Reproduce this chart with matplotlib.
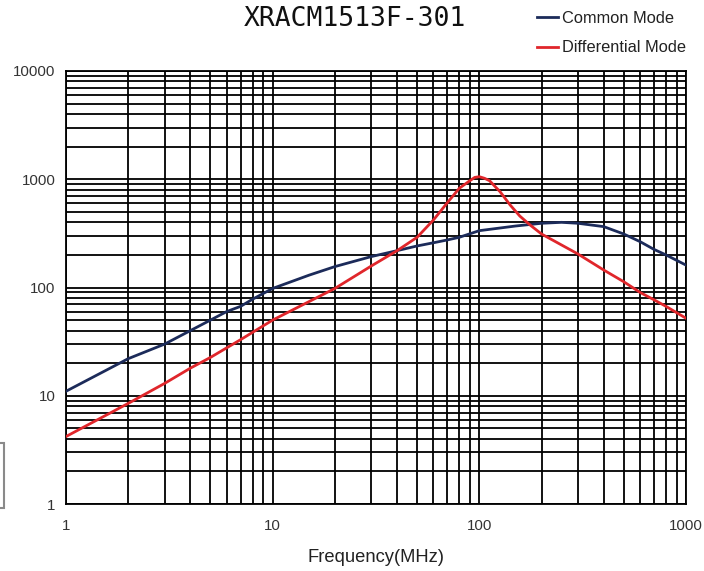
import matplotlib
matplotlib.use("Agg")
import matplotlib.pyplot as plt
from matplotlib.patches import Rectangle
from matplotlib.ticker import FixedLocator, LogLocator, NullFormatter

# ---- data ----
title = "XRACM1513F-301"
series_names = ["Common Mode", "Differential Mode"]

cm_freq = [1, 2, 3, 4, 5, 6, 7, 8, 9, 10, 15, 20, 30, 40, 50, 60, 70, 80,
           100, 150, 200, 250, 300, 400, 500, 600, 700, 800, 1000]
cm_imp = [11, 22, 30, 40, 50, 60, 67, 78, 88, 98, 130, 156, 193, 219, 242,
          259, 275, 291, 335, 370, 392, 400, 392, 365, 312, 265, 225, 200, 161]

dm_freq = [1, 2, 3, 4, 5, 7, 10, 20, 30, 40, 50, 60, 70, 80, 90, 95, 100,
           106, 112, 126, 141, 157, 176, 200, 300, 400, 500, 600, 700, 800, 1000]
dm_imp = [4.2, 8.5, 13, 18, 22.6, 33, 50, 98, 158, 219, 291, 421, 607, 825,
          970, 1040, 1056, 1020, 970, 767, 578, 457, 378, 312, 204, 145, 113,
          90, 77, 67, 52]

x_ticks = [1, 10, 100, 1000]
x_ticklabels = ["1", "10", "100", "1000"]
y_ticks = [1, 10, 100, 1000, 10000]
y_ticklabels = ["1", "10", "100", "1000", "10000"]
xlabel = "Frequency(MHz)"

# ---- figure ----
W, H = 704, 571
fig = plt.figure(figsize=(W / 100, H / 100), dpi=100)
ax = fig.add_axes([66 / W, 1 - 504 / H, (686 - 66) / W, (504 - 71) / H])

ax.set_xscale("log")
ax.set_yscale("log")
ax.set_xlim(1, 1000)
ax.set_ylim(1, 10000)

ax.xaxis.set_major_locator(FixedLocator(x_ticks))
ax.yaxis.set_major_locator(FixedLocator(y_ticks))
ax.xaxis.set_minor_locator(LogLocator(base=10, subs=range(2, 10)))
ax.yaxis.set_minor_locator(LogLocator(base=10, subs=range(2, 10)))
ax.xaxis.set_minor_formatter(NullFormatter())
ax.yaxis.set_minor_formatter(NullFormatter())
ax.set_xticklabels(x_ticklabels)
ax.set_yticklabels(y_ticklabels)

ax.grid(True, which="both", color="black", linewidth=1.3)
ax.set_axisbelow(True)
ax.tick_params(which="both", length=0)
ax.tick_params(axis="y", pad=7.5, labelsize=10.8, labelcolor="#333333")
ax.tick_params(axis="x", pad=11, labelsize=10.8, labelcolor="#333333")
for lab in ax.get_xticklabels() + ax.get_yticklabels():
    lab.set_family("Liberation Sans")
for sp in ax.spines.values():
    sp.set_color("black")
    sp.set_linewidth(1.3)

l1, = ax.plot(cm_freq, cm_imp, color="#1c2b5a", linewidth=2.0,
              label=series_names[0], zorder=3)
l2, = ax.plot(dm_freq, dm_imp, color="#e0262b", linewidth=2.0,
              label=series_names[1], zorder=3)

ax.set_xlabel(xlabel, family="Liberation Sans", fontsize=13.2, color="#222222")
ax.xaxis.set_label_coords(0.5, (504 - 549) / 433)

fig.text(355 / W, 1 - 19 / H, title, ha="center", va="center",
         family="DejaVu Sans Mono", fontsize=19, color="#111111")

leg = ax.legend(handles=[l1, l2], loc="upper left",
                bbox_to_anchor=(537 / W, 1 - 11 / H),
                bbox_transform=fig.transFigure, frameon=False,
                borderpad=0, borderaxespad=0, handlelength=1.3,
                handletextpad=0.25, labelspacing=0.88,
                prop={"family": "Liberation Sans", "size": 11.8})
for t in leg.get_texts():
    t.set_color("#222222")

fig.patches.append(Rectangle((-6 / W, 1 - 508 / H), 10 / W, 65 / H,
                             transform=fig.transFigure, fill=False,
                             edgecolor="#8a8a8a", linewidth=1.5))

fig.savefig("out.png", dpi=100)
